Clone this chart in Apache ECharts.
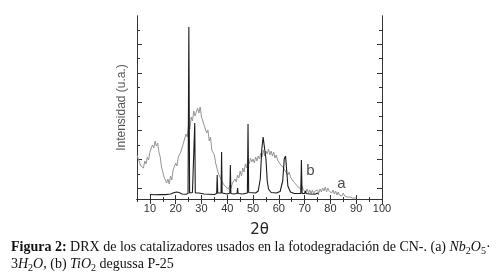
<!DOCTYPE html>
<html>
<head>
<meta charset="utf-8">
<script src="https://cdn.jsdelivr.net/npm/echarts@6/dist/echarts.min.js"></script>
<style>
  html, body { margin: 0; padding: 0; background: #fff; }
  #chart { width: 503px; height: 276px; }
</style>
</head>
<body>
<div id="chart"></div>
<script>
// Nb2O5·3H2O (a): broad amorphous trace, read every 0.5° from 5° to 90°
const aStart = 5, aStep = 0.5;
const aIntensity = [
  440, 400, 395, 330, 335, 310, 380, 350, 420, 390,
  470, 450, 540, 510, 580, 530, 560, 470, 420, 320,
  300, 220, 230, 160, 200, 150, 230, 190, 290, 280,
  360, 330, 420, 410, 470, 460, 560, 540, 650, 620,
  740, 700, 820, 780, 880, 830, 850, 910, 860, 920,
  820, 830, 740, 760, 660, 690, 580, 620, 490, 500,
  440, 360, 350, 260, 270, 200, 210, 150, 170, 120,
  140, 100, 140, 110, 160, 140, 200, 170, 240, 210,
  280, 230, 310, 270, 350, 310, 400, 350, 410, 370,
  400, 360, 420, 380, 430, 400, 460, 420, 490, 430,
  480, 450, 500, 440, 480, 430, 470, 410, 440, 390,
  410, 350, 370, 320, 340, 280, 300, 240, 270, 220,
  240, 180, 200, 150, 170, 120, 140, 100, 130, 90,
  110, 70, 100, 60, 90, 50, 90, 50, 80, 60,
  90, 60, 100, 70, 110, 80, 120, 70, 110, 80,
  100, 60, 90, 50, 80, 40, 70, 40, 60, 30,
  60, 30, 50, 20, 40, 20, 40, 10, 30, 10,
  10
];

// TiO2 P-25 (b): [2θ, intensity]
const bPattern = [
  [10, 45], [12, 42], [14, 45], [16, 44], [18, 50], [18.5, 62], [19.5, 65], [20.5, 70],
  [21.5, 62], [22.5, 50], [24, 48], [24.8, 55], [25.1, 1720], [25.4, 60], [26, 55],
  [26.5, 65], [27.2, 60], [27.4, 760], [27.6, 60], [28, 70], [29, 60], [30, 55],
  [31, 50], [33, 48], [35, 45], [35.9, 55], [36.1, 240], [36.3, 60], [37.6, 60],
  [37.8, 470], [38, 60], [38.6, 55], [40, 50], [41, 60], [41.2, 340], [41.4, 55],
  [42.5, 50], [43.8, 55], [44, 110], [44.2, 55], [46, 50], [47.8, 60], [48.05, 750],
  [48.3, 65], [49, 55], [51, 60], [52, 80], [52.8, 200], [53.4, 500], [53.9, 620],
  [54.3, 540], [54.6, 560], [55, 400], [55.5, 180], [56, 100], [57, 65], [59, 60],
  [60.5, 75], [61.5, 180], [62.1, 400], [62.6, 430], [63, 300], [63.5, 130],
  [64.5, 70], [66, 55], [68.5, 55], [68.75, 390], [69, 55], [70, 55], [70.3, 80],
  [70.6, 55], [72, 50], [74, 48], [75, 60], [75.5, 45]
];

const xMajor = [10, 20, 30, 40, 50, 60, 70, 80, 90, 100];
const xMinor = [5, 15, 25, 35, 45, 55, 65, 75, 85, 95];
const yMajor = [107, 397, 683, 971, 1259, 1547];
const yMinor = [251, 539, 827, 1115, 1403, 1691];
const curveTags = [['a', 84.3, 150], ['b', 72.2, 280]];

const aData = aIntensity.map((v, i) => [aStart + i * aStep, v]);

const axisColor = '#333';
const X_MIN = 5, X_MAX = 100, Y_MAX = 1830;

function xAx(position, ticks, len, extra) {
  return Object.assign({
    type: 'value', position, min: X_MIN, max: X_MAX,
    axisLine: { show: true, lineStyle: { color: axisColor, width: 1 } },
    axisTick: { show: true, length: len, customValues: ticks, lineStyle: { color: axisColor } },
    axisLabel: { show: false }, splitLine: { show: false }
  }, extra || {});
}
function yAx(position, ticks, len, extra) {
  return Object.assign({
    type: 'value', position, min: 0, max: Y_MAX,
    axisLine: { show: true, lineStyle: { color: axisColor, width: 1 } },
    axisTick: { show: true, inside: true, length: len, customValues: ticks, lineStyle: { color: axisColor } },
    axisLabel: { show: false }, splitLine: { show: false }
  }, extra || {});
}

const chart = echarts.init(document.getElementById('chart'), null, { renderer: 'canvas' });

chart.setOption({
  animation: false,
  backgroundColor: '#fff',
  grid: { left: 137, right: 121, top: 16, bottom: 77 },
  xAxis: [
    xAx('bottom', xMajor, 5, {
      name: '2θ', nameLocation: 'middle', nameGap: 24,
      nameTextStyle: { fontFamily: 'DejaVu Sans', fontSize: 15, color: '#222' },
      axisLabel: { show: true, customValues: xMajor, margin: 4, fontFamily: 'Liberation Sans', fontSize: 11, color: '#333' }
    }),
    xAx('bottom', xMinor, 3),
    xAx('top', xMajor, 4),
    xAx('top', xMinor, 2)
  ],
  yAxis: [
    yAx('left', yMajor, 5, {
      name: 'Intensidad (u.a.)', nameLocation: 'middle', nameGap: 9,
      nameTextStyle: { fontFamily: 'Liberation Sans', fontSize: 12, color: '#555' }
    }),
    yAx('left', yMinor, 3),
    yAx('right', yMajor, 5),
    yAx('right', yMinor, 3)
  ],
  series: [{
    name: 'a', type: 'line', data: aData, symbol: 'none',
    lineStyle: { color: '#959595', width: 1 }, z: 2
  }, {
    name: 'b', type: 'line', data: bPattern, symbol: 'none',
    lineStyle: { color: '#1c1c1c', width: 1.1 }, z: 3
  }, {
    name: 'tags', type: 'scatter', symbolSize: 0, silent: true, z: 4,
    data: curveTags.map(t => ({ name: t[0], value: [t[1], t[2]] })),
    label: {
      show: true, position: 'inside', formatter: '{b}',
      fontFamily: 'Liberation Sans', fontSize: 15, color: '#222'
    }
  }],
  graphic: [{
    type: 'text', left: 11, top: 239,
    style: {
      text: '{b|Figura 2:} DRX de los catalizadores usados en la fotodegradación de CN-. (a) {i|Nb}{s|2}{i|O}{s|5}·\n3{i|H}{s|2}{i|O}, (b) {i|TiO}{s|2} degussa P-25',
      fontFamily: 'Liberation Serif', fontSize: 14, fill: '#111', lineHeight: 17,
      rich: {
        b: { fontFamily: 'Liberation Serif', fontSize: 14, fontWeight: 'bold', fill: '#111' },
        i: { fontFamily: 'Liberation Serif', fontSize: 14, fontStyle: 'italic', fill: '#111' },
        s: { fontFamily: 'Liberation Serif', fontSize: 10, fill: '#111', padding: [8, 0, 0, 0] }
      }
    }
  }]
});
</script>
</body>
</html>
